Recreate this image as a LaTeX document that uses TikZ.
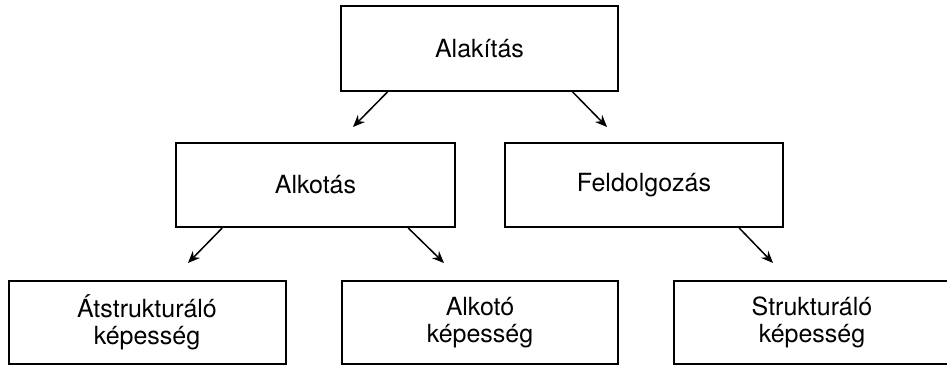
\documentclass[tikz,border=0pt]{standalone}
\usepackage{fontspec}
\setmainfont{TeX Gyre Heros}
\usetikzlibrary{calc,positioning,arrows.meta}
\tikzset{
  line/.style = {-{Stealth[length=12pt,width=10pt]}, line width=1.5pt},
  box/.style  = {draw, line width=2pt, align=center, inner sep=3pt,
                 font=\fontsize{25}{27}\selectfont},
  topbox/.style = {box, minimum width=277pt, minimum height=85pt},
  midbox/.style = {box, minimum width=279pt, minimum height=84pt},
  lowbox/.style = {box, minimum width=277pt, minimum height=83pt},
}

\begin{document}
\begin{tikzpicture}[x=1pt,y=-1pt]
  \useasboundingbox (0,0) rectangle (947,365);
  \node[topbox] (alakitas) at (479.5,48.5) {Alakítás};
  \node[midbox] (alkotas) at (315.5,185) {Alkotás};
  \node[midbox, minimum width=278pt] (feldolg) at (644,185) {Feldolgozás};
  \node[lowbox] (atstrukt) at (147,322.5) {Átstrukturáló\\képesség};
  \node[lowbox, minimum width=276pt] (alkoto) at (480,322.5) {Alkotó\\képesség};
  \node[lowbox] (strukt) at (812,322.5) {Strukturáló\\képesség};
  % free arrow ends
  \coordinate (a1) at (353,127);
  \coordinate (a2) at (607,127);
  \coordinate (b1) at (188,263);
  \coordinate (b2) at (444,263);
  \coordinate (c1) at (773,263);
  \draw[line] ($(alakitas.south west)!0.17!(alakitas.south east)$) -- (a1);
  \draw[line] ($(alakitas.south west)!0.834!(alakitas.south east)$) -- (a2);
  \draw[line] ($(alkotas.south west)!0.168!(alkotas.south east)$) -- (b1);
  \draw[line] ($(alkotas.south west)!0.83!(alkotas.south east)$) -- (b2);
  \draw[line] ($(feldolg.south west)!0.84!(feldolg.south east)$) -- (c1);
\end{tikzpicture}
\end{document}
